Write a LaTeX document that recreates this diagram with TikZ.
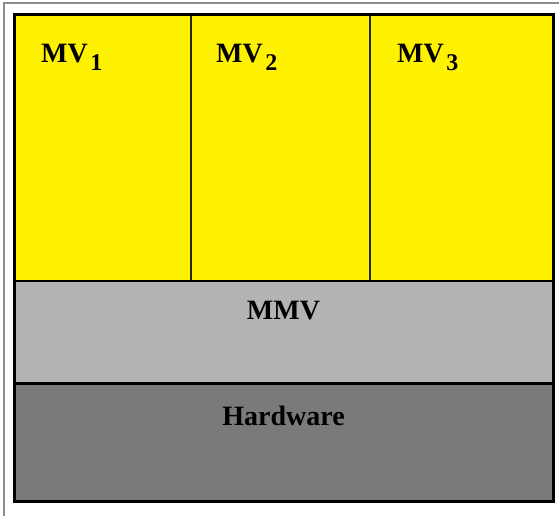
\documentclass[tikz,border=0pt]{standalone}
\usepackage{fontspec}
\setmainfont{Liberation Serif}
\usetikzlibrary{positioning}
\definecolor{mvyellow}{HTML}{FFF200}
\definecolor{mmvgray}{HTML}{B4B4B4}
\definecolor{hwgray}{HTML}{7A7A7A}
\definecolor{framegray}{HTML}{8C8C8C}
\newcommand{\mvsub}[1]{\kern2.5pt\raisebox{-8pt}{\fontsize{24}{24}\selectfont #1}}

\begin{document}
\begin{tikzpicture}[x=1pt,y=-1pt,
    layer/.style={draw=black!85,line width=1.5pt,inner sep=0pt,outer sep=0pt,
                  anchor=north west},
    title/.style={font=\fontsize{28}{28}\selectfont\bfseries,inner sep=0pt}]
  \useasboundingbox (0,0) rectangle (559,516);
  \draw[framegray,line width=1.2pt] (4,516) -- (4,3) -- (559,3);

  % virtual machines
  \node[layer,fill=mvyellow,minimum width=177pt,minimum height=266pt] (mv1) at (14,15) {};
  \node[layer,fill=mvyellow,minimum width=179pt,minimum height=266pt,right=0pt of mv1] (mv2) {};
  \node[layer,fill=mvyellow,minimum width=183pt,minimum height=266pt,right=0pt of mv2] (mv3) {};
  % monitor and hardware
  \node[layer,fill=mmvgray,minimum width=539pt,minimum height=102pt,
        below=0pt of mv1.south west,anchor=north west] (mmv) {};
  \node[layer,fill=hwgray,minimum width=539pt,minimum height=118pt,
        below=0pt of mmv.south west,anchor=north west] (hw) {};

  \draw[line width=3pt] (mmv.south west) -- (mmv.south east);
  \draw[line width=2pt] (mmv.north west) -- (mmv.north east);
  \draw[line width=3pt] (mv1.north west) rectangle (hw.south east);

  \node[title,anchor=base west] (mv1label) at ([xshift=27pt,yshift=-48pt]mv1.north west) {MV\mvsub{1}};
  \node[title,anchor=base west] (mv2label) at ([xshift=25pt,yshift=-48pt]mv2.north west) {MV\mvsub{2}};
  \node[title,anchor=base west] (mv3label) at ([xshift=27pt,yshift=-48pt]mv3.north west) {MV\mvsub{3}};
  \node[title,anchor=base] (mmvlabel) at ([yshift=-38pt]mmv.north) {MMV};
  \node[title,anchor=base] (hwlabel) at ([yshift=-42pt]hw.north) {Hardware};
\end{tikzpicture}
\end{document}
